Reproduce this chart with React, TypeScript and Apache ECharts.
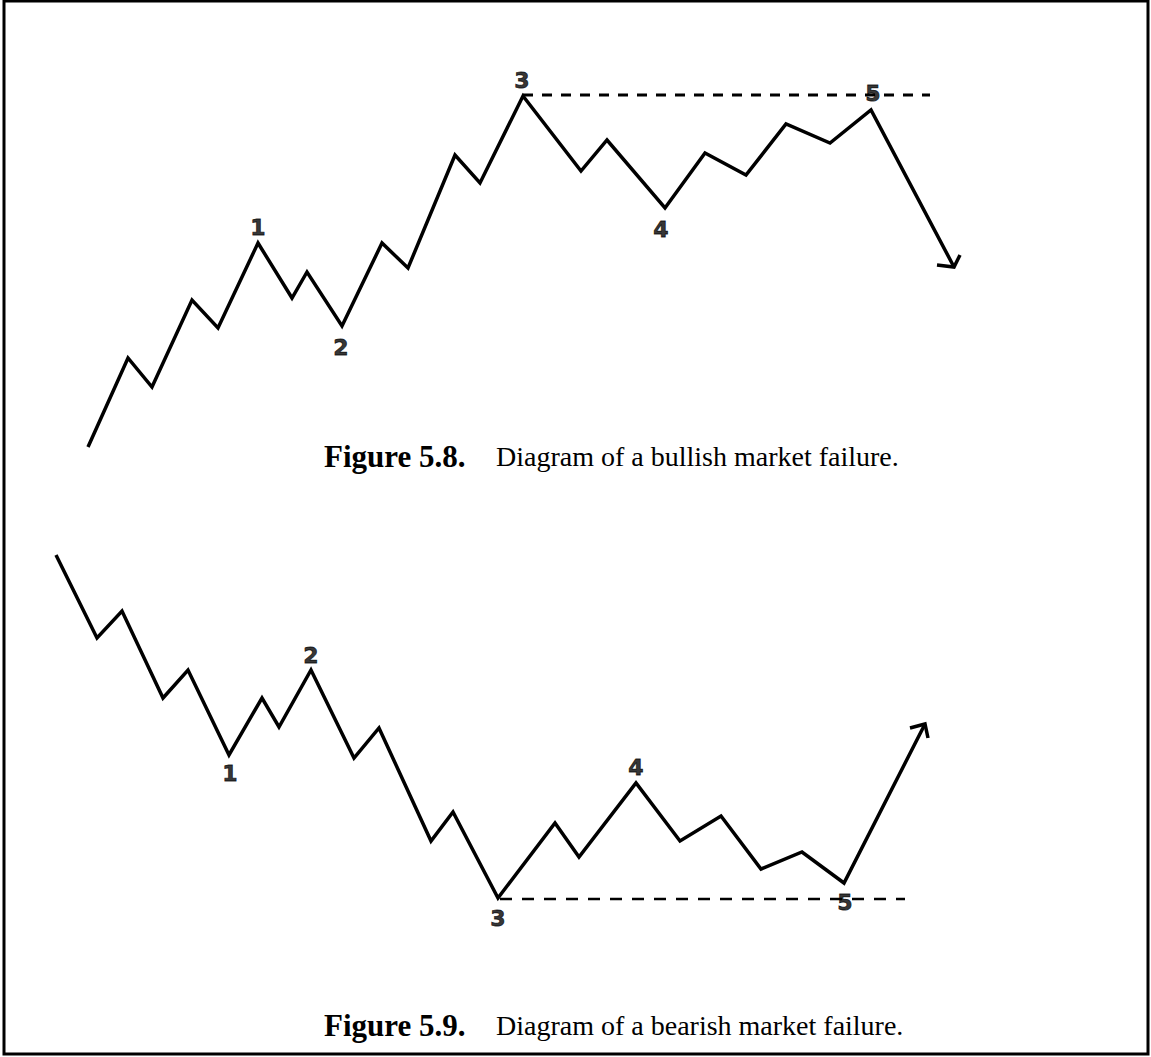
import React, { useEffect, useRef } from "react";
import * as echarts from "echarts";

// Figure 5.8 — bullish market failure (diagram coordinates)
const bullX = [88, 128, 152, 192, 218, 258, 292, 307, 342, 382, 408, 455, 480, 523, 581, 607, 665, 705, 746, 786, 830, 871, 954];
const bullY = [447, 358, 387, 300, 328, 243, 298, 272, 326, 243, 268, 155, 183, 96, 171, 140, 208, 153, 175, 124, 143, 110, 267];
const bullArrowX = [937, 954, 960];
const bullArrowY = [265, 267, 255];
const bullDashX = [523, 930];
const bullDashY = [95, 95];
const bullLabels = ["1", "2", "3", "4", "5"];
const bullLabelX = [258, 341, 522, 661, 873];
const bullLabelY = [227, 347, 80, 229, 93];

// Figure 5.9 — bearish market failure
const bearX = [56, 97, 122, 163, 188, 229, 262, 279, 311, 354, 379, 431, 453, 498, 555, 579, 636, 680, 721, 761, 802, 844, 925];
const bearY = [555, 638, 611, 698, 670, 755, 698, 727, 670, 758, 728, 841, 812, 898, 823, 857, 783, 841, 816, 869, 852, 883, 724];
const bearArrowX = [910, 925, 928];
const bearArrowY = [728, 724, 738];
const bearDashX = [500, 905];
const bearDashY = [899, 899];
const bearLabels = ["1", "2", "3", "4", "5"];
const bearLabelX = [230, 311, 498, 636, 845];
const bearLabelY = [773, 655, 918, 767, 902];

const captionFigures = ["Figure 5.8.", "Figure 5.9."];
const captionTexts = ["Diagram of a bullish market failure.", "Diagram of a bearish market failure."];

const W = 1151;
const H = 1057;

function zip(xs: number[], ys: number[]) {
  return xs.map((x, i) => [x, ys[i]]);
}

export default function App() {
  const ref = useRef<HTMLDivElement>(null);
  useEffect(() => {
    if (!ref.current) return;
    const chart = echarts.init(ref.current, undefined, { renderer: "svg" });
    const lineBase = {
      type: "line",
      showSymbol: false,
      symbol: "none",
      silent: true,
      lineStyle: { color: "#000", width: 3.5, join: "miter" },
    };
    const labelSeries = (labels: string[], xs: number[], ys: number[]) => ({
      type: "scatter",
      symbolSize: 1,
      itemStyle: { color: "transparent" },
      silent: true,
      data: labels.map((l, i) => ({ value: [xs[i], ys[i]], name: l })),
      label: {
        show: true,
        position: "inside",
        formatter: (p: any) => p.name,
        color: "#000",
        textBorderWidth: 0.8,
        textBorderColor: "#000",
        fontFamily: "DejaVu Sans",
        fontWeight: "bold",
        fontSize: 22,
      },
    });
    const capFig = "bold 31px 'Liberation Serif'";
    const capTxt = "28px 'Liberation Serif'";
    chart.setOption({
      animation: false,
      grid: { left: 0, right: 0, top: 0, bottom: 0 },
      xAxis: { type: "value", min: 0, max: W, show: false },
      yAxis: { type: "value", min: 0, max: H, inverse: true, show: false },
      series: [
        { ...lineBase, data: zip(bullX, bullY) },
        { ...lineBase, data: zip(bullArrowX, bullArrowY) },
        { ...lineBase, data: zip(bullDashX, bullDashY), lineStyle: { color: "#000", width: 3, type: [10, 9] } },
        { ...lineBase, data: zip(bearX, bearY) },
        { ...lineBase, data: zip(bearArrowX, bearArrowY) },
        { ...lineBase, data: zip(bearDashX, bearDashY), lineStyle: { color: "#000", width: 2.5, type: [12, 10] } },
        labelSeries(bullLabels, bullLabelX, bullLabelY),
        labelSeries(bearLabels, bearLabelX, bearLabelY),
      ],
      graphic: [
        {
          type: "rect",
          shape: { x: 4, y: 1, width: 1144, height: 1053 },
          style: { fill: "none", stroke: "#000", lineWidth: 3 },
          silent: true,
        },
        {
          type: "text",
          x: 324,
          y: 456,
          style: { text: captionFigures[0], font: capFig, fill: "#000", verticalAlign: "middle" },
        },
        {
          type: "text",
          x: 496,
          y: 456,
          style: { text: captionTexts[0], font: capTxt, fill: "#000", verticalAlign: "middle" },
        },
        {
          type: "text",
          x: 324,
          y: 1025,
          style: { text: captionFigures[1], font: capFig, fill: "#000", verticalAlign: "middle" },
        },
        {
          type: "text",
          x: 496,
          y: 1025,
          style: { text: captionTexts[1], font: capTxt, fill: "#000", verticalAlign: "middle" },
        },
      ],
    });
    return () => chart.dispose();
  }, []);
  return (
    <div
      ref={ref}
      style={{ position: "absolute", left: 0, top: 0, width: W, height: H, background: "#fff" }}
    />
  );
}
